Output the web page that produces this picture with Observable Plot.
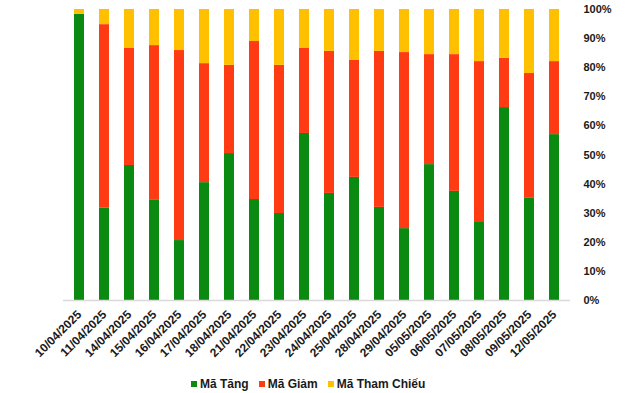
<!DOCTYPE html>
<html>
<head>
<meta charset="utf-8">
<script src="https://cdn.jsdelivr.net/npm/d3@7"></script>
<script src="https://cdn.jsdelivr.net/npm/@observablehq/plot@0.6"></script>
<style>
  html, body { margin: 0; padding: 0; background: #fff; }
  #wrap { position: relative; width: 640px; height: 393px; font-family: "Liberation Sans", Arial, sans-serif; }
  #legend { position: absolute; top: 377px; left: 191px; display: flex; align-items: center; font: bold 12px "Liberation Sans", Arial, sans-serif; color: #1a1a1a; white-space: nowrap; }
  #legend .item { display: flex; align-items: center; margin-right: 10px; }
  #legend .sw { width: 6px; height: 6px; margin-right: 3px; }
</style>
</head>
<body>
<div id="wrap"><div id="chart"></div><div id="legend"></div></div>
<script>
const dates = ["10/04/2025","11/04/2025","14/04/2025","15/04/2025","16/04/2025","17/04/2025","18/04/2025","21/04/2025","22/04/2025","23/04/2025","24/04/2025","25/04/2025","28/04/2025","29/04/2025","05/05/2025","06/05/2025","07/05/2025","08/05/2025","09/05/2025","12/05/2025"];
const series = ["Mã Tăng", "Mã Giảm", "Mã Tham Chiếu"];
const colors = ["#0a8a10", "#ff3b14", "#ffc000"];
const tang   = [98.3, 31.7, 46.4, 34.4, 20.6, 40.5, 50.5, 34.7, 29.9, 57.4, 36.8, 42.3, 32.0, 24.7, 46.7, 37.5, 26.8, 66.3, 35.1, 57.0];
const giam   = [0.0, 63.1, 40.2, 53.2, 65.3, 40.9, 30.3, 54.3, 50.9, 29.2, 48.8, 40.2, 53.6, 60.5, 37.8, 47.0, 55.3, 16.9, 42.9, 25.1];
const thamchieu = [1.7, 5.2, 13.4, 12.4, 14.1, 18.6, 19.2, 11.0, 19.2, 13.4, 14.4, 17.5, 14.4, 14.8, 15.5, 15.5, 17.9, 16.8, 22.0, 17.9];
const yTicks = [0, 0.1, 0.2, 0.3, 0.4, 0.5, 0.6, 0.7, 0.8, 0.9, 1.0];

const valuesBySeries = [tang, giam, thamchieu];
const data = [];
dates.forEach((d, i) => {
  series.forEach((s, k) => data.push({date: d, series: s, value: valuesBySeries[k][i] / 100}));
});

const chart = Plot.plot({
  width: 640,
  height: 372,
  marginTop: 9,
  marginBottom: 72,
  marginLeft: 63,
  marginRight: 70,
  style: {fontFamily: "'Liberation Sans', Arial, sans-serif", fontSize: "11px", fontWeight: "bold", color: "#1a1a1a", background: "#fff"},
  x: {domain: dates, paddingInner: 0.6, paddingOuter: 0.3, label: null},
  y: {domain: [0, 1], label: null},
  color: {domain: series, range: colors},
  marks: [
    Plot.barY(data, {x: "date", y: "value", fill: "series", order: series}),
    Plot.ruleY([0], {stroke: "#d9d9d9", strokeWidth: 1.5}),
    Plot.axisY({anchor: "right", ticks: yTicks, tickFormat: d3.format(".0%"), tickSize: 0, tickPadding: 13, textAnchor: "start", label: null}),
    Plot.axisX({tickRotate: -45, tickSize: 0, tickPadding: 12, fontSize: 12, label: null, dx: 0})
  ]
});
document.getElementById("chart").appendChild(chart);

const legend = document.getElementById("legend");
series.forEach((s, k) => {
  const item = document.createElement("div");
  item.className = "item";
  const sw = document.createElement("div");
  sw.className = "sw";
  sw.style.background = colors[k];
  item.appendChild(sw);
  item.appendChild(document.createTextNode(s));
  legend.appendChild(item);
});
</script>
</body>
</html>
